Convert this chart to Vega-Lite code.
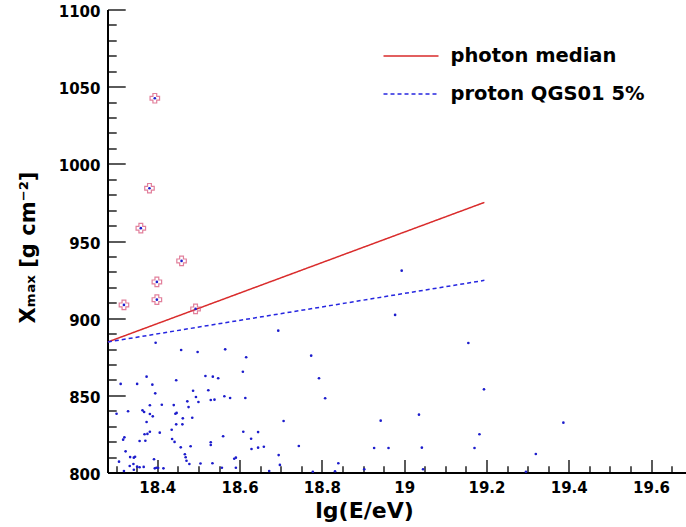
{
  "$schema": "https://vega.github.io/schema/vega-lite/v6.json",
  "width": 578.5,
  "height": 463,
  "autosize": {"type": "none"},
  "padding": {"left": 107.5, "top": 9.5, "right": 0, "bottom": 54.5},
  "background": "white",
  "config": {
    "view": {"stroke": null},
    "axis": {"grid": false, "labelFlush": false, "zindex": 1, "tickColor": "black", "tickWidth": 1.3},
    "legend": {
      "orient": "none",
      "legendX": 275,
      "legendY": 18,
      "title": null,
      "symbolType": "stroke",
      "symbolSize": 3025,
      "symbolStrokeWidth": 1.5,
      "labelFont": "DejaVu Sans",
      "labelFontWeight": "bold",
      "labelFontSize": 19.5,
      "labelColor": "black",
      "labelOffset": 11,
      "rowPadding": -26,
      "labelLimit": 400
    }
  },
  "datasets": {
    "events": [
      {"E": 18.396, "X": 884.1}, {"E": 18.458, "X": 879.4}, {"E": 18.498, "X": 878.1}, {"E": 18.374, "X": 862.1},
      {"E": 18.311, "X": 857.4}, {"E": 18.351, "X": 857.4}, {"E": 18.388, "X": 856.9}, {"E": 18.446, "X": 859.8},
      {"E": 18.487, "X": 853.0}, {"E": 18.395, "X": 851.3}, {"E": 18.473, "X": 846.1}, {"E": 18.494, "X": 848.9},
      {"E": 18.500, "X": 845.7}, {"E": 18.382, "X": 843.6}, {"E": 18.411, "X": 843.9}, {"E": 18.440, "X": 843.7},
      {"E": 18.476, "X": 842.4}, {"E": 18.301, "X": 838.1}, {"E": 18.329, "X": 839.7}, {"E": 18.364, "X": 840.3},
      {"E": 18.368, "X": 839.2}, {"E": 18.382, "X": 837.9}, {"E": 18.389, "X": 836.4}, {"E": 18.444, "X": 838.1},
      {"E": 18.447, "X": 838.6}, {"E": 18.462, "X": 835.1}, {"E": 18.485, "X": 835.5}, {"E": 18.374, "X": 832.7},
      {"E": 18.446, "X": 831.2}, {"E": 18.461, "X": 831.2}, {"E": 18.382, "X": 826.4}, {"E": 18.376, "X": 825.0},
      {"E": 18.369, "X": 824.8}, {"E": 18.406, "X": 825.8}, {"E": 18.435, "X": 827.7}, {"E": 18.320, "X": 822.8},
      {"E": 18.317, "X": 821.3}, {"E": 18.357, "X": 820.4}, {"E": 18.371, "X": 820.6}, {"E": 18.436, "X": 821.7},
      {"E": 18.442, "X": 819.8}, {"E": 18.457, "X": 816.3}, {"E": 18.481, "X": 817.0}, {"E": 18.323, "X": 813.7},
      {"E": 18.467, "X": 811.8}, {"E": 18.334, "X": 810.0}, {"E": 18.343, "X": 809.6}, {"E": 18.346, "X": 810.2},
      {"E": 18.469, "X": 809.9}, {"E": 18.307, "X": 807.0}, {"E": 18.392, "X": 808.6}, {"E": 18.471, "X": 807.6},
      {"E": 18.342, "X": 805.5}, {"E": 18.333, "X": 804.2}, {"E": 18.351, "X": 803.8}, {"E": 18.357, "X": 803.4},
      {"E": 18.367, "X": 803.6}, {"E": 18.394, "X": 802.7}, {"E": 18.398, "X": 803.1}, {"E": 18.402, "X": 802.9},
      {"E": 18.415, "X": 802.7}, {"E": 18.478, "X": 805.5}, {"E": 18.505, "X": 805.8}, {"E": 18.343, "X": 801.8},
      {"E": 18.319, "X": 801.0}, {"E": 18.694, "X": 891.9}, {"E": 18.565, "X": 879.8}, {"E": 18.616, "X": 874.7},
      {"E": 18.608, "X": 865.3}, {"E": 18.517, "X": 862.5}, {"E": 18.535, "X": 862.1}, {"E": 18.548, "X": 861.1},
      {"E": 18.524, "X": 853.3}, {"E": 18.530, "X": 847.0}, {"E": 18.539, "X": 847.2}, {"E": 18.563, "X": 849.4},
      {"E": 18.577, "X": 848.3}, {"E": 18.614, "X": 848.3}, {"E": 18.707, "X": 833.4}, {"E": 18.560, "X": 823.5},
      {"E": 18.609, "X": 826.4}, {"E": 18.645, "X": 826.2}, {"E": 18.628, "X": 821.9}, {"E": 18.530, "X": 819.6},
      {"E": 18.530, "X": 817.8}, {"E": 18.629, "X": 815.2}, {"E": 18.645, "X": 816.1}, {"E": 18.659, "X": 816.7},
      {"E": 18.744, "X": 817.2}, {"E": 18.695, "X": 811.3}, {"E": 18.587, "X": 808.9}, {"E": 18.591, "X": 809.6},
      {"E": 18.534, "X": 806.0}, {"E": 18.557, "X": 803.1}, {"E": 18.591, "X": 803.1}, {"E": 18.698, "X": 804.9},
      {"E": 18.672, "X": 801.0}, {"E": 18.994, "X": 930.8}, {"E": 18.978, "X": 902.1}, {"E": 19.156, "X": 883.9},
      {"E": 18.774, "X": 875.7}, {"E": 18.793, "X": 861.1}, {"E": 18.808, "X": 848.1}, {"E": 19.194, "X": 853.9},
      {"E": 18.943, "X": 833.6}, {"E": 19.036, "X": 837.5}, {"E": 18.927, "X": 815.9}, {"E": 18.962, "X": 815.9},
      {"E": 19.043, "X": 816.1}, {"E": 19.183, "X": 824.8}, {"E": 19.171, "X": 815.9}, {"E": 18.840, "X": 806.0},
      {"E": 18.903, "X": 802.1}, {"E": 19.046, "X": 802.1}, {"E": 18.778, "X": 800.5}, {"E": 18.832, "X": 800.8},
      {"E": 19.320, "X": 812.0}, {"E": 19.296, "X": 800.5}, {"E": 19.387, "X": 832.3},
      {"E": 18.394, "X": 1042.5}, {"E": 18.381, "X": 984.2}, {"E": 18.360, "X": 958.3}, {"E": 18.459, "X": 937.1},
      {"E": 18.399, "X": 923.5}, {"E": 18.399, "X": 912.0}, {"E": 18.319, "X": 908.6}, {"E": 18.493, "X": 906.0}
    ],
    "photons": [
      {"E": 18.394, "X": 1042.5}, {"E": 18.381, "X": 984.2}, {"E": 18.360, "X": 958.3}, {"E": 18.459, "X": 937.1},
      {"E": 18.399, "X": 923.5}, {"E": 18.399, "X": 912.0}, {"E": 18.319, "X": 908.6}, {"E": 18.493, "X": 906.0}
    ],
    "lines": [
      {"series": "photon median", "E": 18.28, "X": 884.6},
      {"series": "photon median", "E": 19.195, "X": 975.0},
      {"series": "proton QGS01 5%", "E": 18.28, "X": 884.6},
      {"series": "proton QGS01 5%", "E": 19.195, "X": 924.5}
    ]
  },
  "layer": [
    {
      "data": {"name": "lines"},
      "mark": {"type": "line", "strokeWidth": 1.5},
      "encoding": {
        "x": {
          "field": "E", "type": "quantitative",
          "scale": {"domain": [18.279, 19.685], "nice": false, "zero": false},
          "axis": {
            "orient": "bottom",
            "values": [18.4, 18.6, 18.8, 19, 19.2, 19.4, 19.6],
            "format": "~g",
            "ticks": false,
            "domainColor": "black", "domainWidth": 2,
            "labelFont": "DejaVu Sans", "labelFontWeight": "bold", "labelFontSize": 15, "labelColor": "black",
            "labelPadding": 8, "labelBaseline": "top",
            "title": "lg(E/eV)", "titleFont": "DejaVu Sans", "titleFontWeight": "bold", "titleFontSize": 22, "titleColor": "black",
            "titleX": 256.5, "titleY": 37.5, "titleBaseline": "middle", "titleAlign": "center"
          }
        },
        "y": {
          "field": "X", "type": "quantitative",
          "scale": {"domain": [800, 1100], "nice": false, "zero": false},
          "axis": {
            "orient": "left",
            "values": [800, 850, 900, 950, 1000, 1050, 1100],
            "format": "d",
            "ticks": false,
            "domainColor": "black", "domainWidth": 2,
            "labelFont": "DejaVu Sans", "labelFontWeight": "bold", "labelFontSize": 15, "labelColor": "black",
            "labelPadding": 7.5, "labelOffset": 2,
            "title": "Xₘₐₓ [g cm⁻²]", "titleFont": "DejaVu Sans", "titleFontWeight": "bold", "titleFontSize": 21, "titleColor": "black",
            "titleX": -79.5, "titleY": 237.5, "titleBaseline": "middle", "titleAlign": "center", "titleAngle": 270
          }
        },
        "color": {
          "field": "series", "type": "nominal",
          "scale": {"domain": ["photon median", "proton QGS01 5%"], "range": ["#d92b2b", "#2626e0"]},
          "legend": {}
        },
        "strokeDash": {
          "field": "series", "type": "nominal",
          "scale": {"domain": ["photon median", "proton QGS01 5%"], "range": [[1, 0], [4, 3]]},
          "legend": {}
        }
      }
    },
    {
      "data": {"name": "events"},
      "mark": {"type": "circle", "size": 7, "color": "#1c1ccc", "opacity": 1},
      "encoding": {
        "x": {
          "field": "E", "type": "quantitative",
          "axis": {
            "orient": "bottom",
            "offset": -13,
            "values": [18.4, 18.6, 18.8, 19, 19.2, 19.4, 19.6],
            "ticks": true, "tickSize": 13,
            "labels": false, "domain": false, "title": null
          }
        },
        "y": {
          "field": "X", "type": "quantitative",
          "axis": {
            "orient": "left",
            "offset": -17.7,
            "values": [800, 850, 900, 950, 1000, 1050, 1100],
            "ticks": true, "tickSize": 17.7,
            "labels": false, "domain": false, "title": null
          }
        }
      }
    },
    {
      "data": {"name": "photons"},
      "mark": {"type": "point", "shape": "cross", "filled": false, "size": 90, "stroke": "#d64a72", "strokeWidth": 1.2},
      "encoding": {
        "x": {
          "field": "E", "type": "quantitative",
          "axis": {
            "orient": "bottom",
            "offset": -6.7,
            "values": [18.3, 18.35, 18.45, 18.5, 18.55, 18.65, 18.7, 18.75, 18.85, 18.9, 18.95, 19.05, 19.1, 19.15, 19.25, 19.3, 19.35, 19.45, 19.5, 19.55, 19.65],
            "ticks": true, "tickSize": 6.7,
            "labels": false, "domain": false, "title": null
          }
        },
        "y": {
          "field": "X", "type": "quantitative",
          "axis": {
            "orient": "left",
            "offset": -8.7,
            "values": [810, 820, 830, 840, 860, 870, 880, 890, 910, 920, 930, 940, 960, 970, 980, 990, 1010, 1020, 1030, 1040, 1060, 1070, 1080, 1090],
            "ticks": true, "tickSize": 8.7,
            "labels": false, "domain": false, "title": null
          }
        }
      }
    }
  ],
  "resolve": {"axis": {"x": "independent", "y": "independent"}}
}
